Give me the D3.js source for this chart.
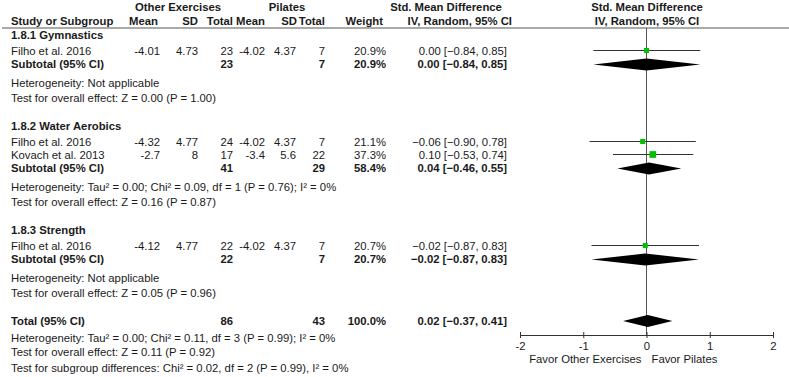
<!DOCTYPE html>
<html>
<head>
<meta charset="utf-8">
<script src="https://cdn.jsdelivr.net/npm/d3@7"></script>
<style>
  body { margin: 0; background: #fff; }
  svg text { font-family: "Liberation Sans", Arial, sans-serif; font-size: 11.3px; fill: #1a1a1a; }
  .b { font-weight: bold; }
</style>
</head>
<body>
<svg id="chart" width="789" height="377"></svg>
<script>
// ---- data ----
const groups = ["1.8.1 Gymnastics", "1.8.2 Water Aerobics", "1.8.3 Strength"];

const studies = [
  { group: 0, name: "Filho et al. 2016", m1: "-4.01", sd1: "4.73", n1: 23, m2: "-4.02", sd2: "4.37", n2: 7, weight: 20.9, smd: 0.00, lo: -0.84, hi: 0.85 },
  { group: 1, name: "Filho et al. 2016", m1: "-4.32", sd1: "4.77", n1: 24, m2: "-4.02", sd2: "4.37", n2: 7, weight: 21.1, smd: -0.06, lo: -0.90, hi: 0.78 },
  { group: 1, name: "Kovach et al. 2013", m1: "-2.7", sd1: "8", n1: 17, m2: "-3.4", sd2: "5.6", n2: 22, weight: 37.3, smd: 0.10, lo: -0.53, hi: 0.74 },
  { group: 2, name: "Filho et al. 2016", m1: "-4.12", sd1: "4.77", n1: 22, m2: "-4.02", sd2: "4.37", n2: 7, weight: 20.7, smd: -0.02, lo: -0.87, hi: 0.83 }
];

const subtotals = [
  { group: 0, n1: 23, n2: 7, weight: "20.9%", smd: 0.00, lo: -0.84, hi: 0.85 },
  { group: 1, n1: 41, n2: 29, weight: "58.4%", smd: 0.04, lo: -0.46, hi: 0.55 },
  { group: 2, n1: 22, n2: 7, weight: "20.7%", smd: -0.02, lo: -0.87, hi: 0.83 }
];

const heterogeneity = [
  "Heterogeneity: Not applicable",
  "Heterogeneity: Tau\u00b2 = 0.00; Chi\u00b2 = 0.09, df = 1 (P = 0.76); I\u00b2 = 0%",
  "Heterogeneity: Not applicable"
];
const overallEffect = [
  "Test for overall effect: Z = 0.00 (P = 1.00)",
  "Test for overall effect: Z = 0.16 (P = 0.87)",
  "Test for overall effect: Z = 0.05 (P = 0.96)"
];

const total = { n1: 86, n2: 43, weight: "100.0%", smd: 0.02, lo: -0.37, hi: 0.41 };
const totalNotes = [
  "Heterogeneity: Tau\u00b2 = 0.00; Chi\u00b2 = 0.11, df = 3 (P = 0.99); I\u00b2 = 0%",
  "Test for overall effect: Z = 0.11 (P = 0.92)",
  "Test for subgroup differences: Chi\u00b2 = 0.02, df = 2 (P = 0.99), I\u00b2 = 0%"
];

const axisTicks = [-2, -1, 0, 1, 2];
const favorLeft = "Favor Other Exercises";
const favorRight = "Favor Pilates";

// ---- layout ----
const svg = d3.select("#chart");
const col = { name: 11, m1: 160, sd1: 198, n1: 233, m2: 265, sd2: 296, n2: 325, w: 386, ci: 507 };
const x = d3.scaleLinear().domain([-2, 2]).range([520, 773]);
const axisY = 335;
const headerLine = 28;

const fmt = d3.format(".2f");
const ciText = d => `${fmt(d.smd)} [${fmt(d.lo)}, ${fmt(d.hi)}]`;

function txt(xp, y, s, anchor = "start", bold = false) {
  return svg.append("text")
    .attr("x", xp).attr("y", y).attr("dy", "0.35em")
    .attr("text-anchor", anchor)
    .attr("class", bold ? "b" : null)
    .text(s);
}

function numCols(y, d, bold) {
  txt(col.n1, y, d.n1, "end", bold);
  txt(col.n2, y, d.n2, "end", bold);
  txt(col.w, y, d.weight, "end", bold);
  txt(col.ci, y, ciText(d), "end", bold);
}

function diamond(y, d) {
  const h = 6;
  svg.append("path")
    .attr("d", `M${x(d.lo)},${y}L${x(d.smd)},${y - h}L${x(d.hi)},${y}L${x(d.smd)},${y + h}Z`)
    .attr("fill", "#000");
}

// headers
txt(178, 7, "Other Exercises", "middle", true);
txt(287, 7, "Pilates", "middle", true);
txt(446, 7, "Std. Mean Difference", "middle", true);
txt(647, 7, "Std. Mean Difference", "middle", true);
txt(col.name, 21, "Study or Subgroup", "start", true);
txt(col.m1 - 2, 21, "Mean", "end", true);
txt(col.sd1, 21, "SD", "end", true);
txt(col.n1, 21, "Total", "end", true);
txt(col.m2, 21, "Mean", "end", true);
txt(col.sd2 + 1, 21, "SD", "end", true);
txt(col.n2, 21, "Total", "end", true);
txt(383, 21, "Weight", "end", true);
txt(col.ci + 5, 21, "IV, Random, 95% CI", "end", true);
txt(647, 21, "IV, Random, 95% CI", "middle", true);

svg.append("line")
  .attr("x1", 2).attr("x2", 789).attr("y1", headerLine).attr("y2", headerLine)
  .attr("stroke", "#555").attr("stroke-width", 1);

// zero line
svg.append("line")
  .attr("x1", x(0)).attr("x2", x(0)).attr("y1", headerLine).attr("y2", axisY)
  .attr("stroke", "#555").attr("stroke-width", 1);

// rows
let y = 35;
groups.forEach((gname, gi) => {
  txt(col.name, y, gname, "start", true);
  y += 16.5;
  studies.filter(s => s.group === gi).forEach((s, i) => {
    if (i > 0) y += 13;
    txt(col.name, y, s.name);
    txt(col.m1, y, s.m1, "end");
    txt(col.sd1, y, s.sd1, "end");
    txt(col.m2, y, s.m2, "end");
    txt(col.sd2, y, s.sd2, "end");
    numCols(y, { ...s, weight: s.weight.toFixed(1) + "%" }, false);

    const my = y - 1;
    svg.append("line")
      .attr("x1", x(s.lo)).attr("x2", x(s.hi)).attr("y1", my).attr("y2", my)
      .attr("stroke", "#333").attr("stroke-width", 1);
    const side = 1.1 * Math.sqrt(s.weight);
    svg.append("rect")
      .attr("x", x(s.smd) - side / 2).attr("y", my - side / 2)
      .attr("width", side).attr("height", side)
      .attr("fill", "#00c000");
  });
  y += 13;
  const sub = subtotals[gi];
  txt(col.name, y, "Subtotal (95% CI)", "start", true);
  numCols(y, sub, true);
  diamond(y, sub);
  y += 18.5;
  txt(col.name, y, heterogeneity[gi]);
  y += 15;
  txt(col.name, y, overallEffect[gi]);
  y += 28;
});

// total
txt(col.name, y, "Total (95% CI)", "start", true);
numCols(y, total, true);
diamond(y, total);
y += 17;
totalNotes.forEach((t, i) => {
  txt(col.name, y, t);
  y += i === 0 ? 14.5 : 15.5;
});

// axis
const axis = svg.append("g")
  .attr("transform", `translate(0,${axisY})`)
  .call(d3.axisBottom(x).tickValues(axisTicks).tickSize(3).tickSizeOuter(0).tickPadding(4)
    .tickFormat(d => String(d)));
axis.select(".domain").attr("stroke", "#333");
axis.selectAll(".tick line").attr("y1", -3).attr("y2", 3).attr("stroke", "#333");
axis.selectAll(".tick text")
  .style("font-family", "'Liberation Sans', Arial, sans-serif")
  .style("font-size", "11.3px").attr("fill", "#1a1a1a");

txt(x(0) - 5, 359, favorLeft, "end");
txt(x(0) + 5, 359, favorRight, "start");
</script>
</body>
</html>
